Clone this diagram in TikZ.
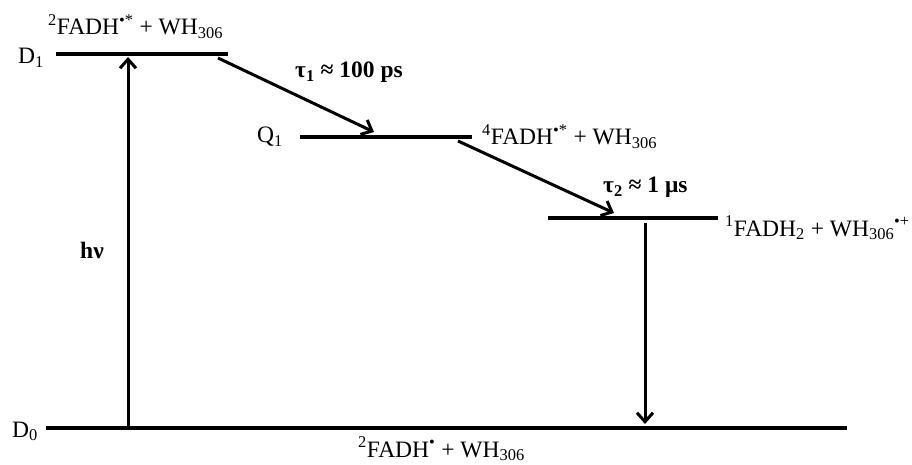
\documentclass[tikz,border=0pt]{standalone}
\usepackage{fontspec}
\setmainfont{Liberation Serif}
\usetikzlibrary{arrows.meta}
\begin{document}
\begin{tikzpicture}[x=1pt,y=-1pt,
  level/.style={line width=3.4pt},
  trans/.style={line width=3pt,-{Straight Barb[length=9pt,width=16pt,line width=3pt]}},
  txt/.style={anchor=base west,inner sep=0pt,font=\fontsize{23.5}{27}\selectfont},
  btxt/.style={txt,font=\fontsize{23.5}{27}\selectfont\bfseries}]
\useasboundingbox (0,0) rectangle (912,465);
% level end points
\coordinate (d1a) at (56,54);  \coordinate (d1b) at (228,54);
\coordinate (q1a) at (300,137); \coordinate (q1b) at (472,137);
\coordinate (l3a) at (548,218); \coordinate (l3b) at (718,218);
\coordinate (d0a) at (46,428);  \coordinate (d0b) at (847,428);
% levels
\draw[level] (d1a) -- (d1b);
\draw[level] (q1a) -- (q1b);
\draw[level] (l3a) -- (l3b);
\draw[level] (d0a) -- (d0b);
% level labels
\node[txt] (lD1) at (18,64) {D\textsubscript{1}};
\node[txt] (lQ1) at (257,143) {Q\textsubscript{1}};
\node[txt] (lD0) at (12,437) {D\textsubscript{0}};
% species
\node[txt] (sD1) at (48,35) {\textsuperscript{2}FADH\textsuperscript{•*} + WH\textsubscript{306}};
\node[txt] (sQ1) at (482,145) {\textsuperscript{4}FADH\textsuperscript{•*} + WH\textsubscript{306}};
\node[txt] (sL3) at (725,236) {\textsuperscript{1}FADH\textsubscript{2} + WH\textsubscript{306}\textsuperscript{•+}};
\node[txt] (sD0) at (358,457) {\textsuperscript{2}FADH\textsuperscript{•} + WH\textsubscript{306}};
% transition end points
\coordinate (hvA) at (128,428); \coordinate (hvB) at (128,57);
\coordinate (t1A) at (218,58);  \coordinate (t1B) at (374,132);
\coordinate (t2A) at (458,141); \coordinate (t2B) at (614,213);
\coordinate (dnA) at (645,223); \coordinate (dnB) at (645,424);
% transitions
\draw[trans] (hvA) -- (hvB);
\draw[trans] (t1A) -- (t1B);
\draw[trans] (t2A) -- (t2B);
\draw[trans] (dnA) -- (dnB);
% transition labels
\node[btxt] (lhv) at (80,258) {hν};
\node[btxt] (lt1) at (295,78) {τ\textsubscript{1} ≈ 100 ps};
\node[btxt] (lt2) at (603,193) {τ\textsubscript{2} ≈ 1 μs};
\end{tikzpicture}
\end{document}
